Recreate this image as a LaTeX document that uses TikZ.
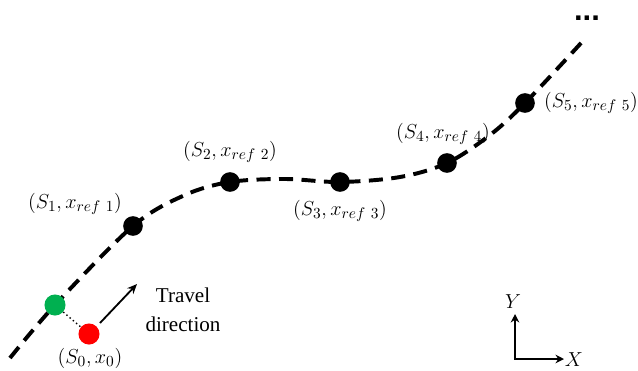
\documentclass[tikz,border=0pt]{standalone}
\usepackage{fontspec}
\setmainfont{Liberation Serif}
\newfontfamily\dotsfont{Liberation Sans}
\usetikzlibrary{arrows.meta}
\begin{document}
\begin{tikzpicture}[x=0.025cm,y=-0.025cm,
  pathline/.style={line width=2.8pt,dash pattern=on 10pt off 6pt},
  wp/.style={circle,fill=black,inner sep=0pt,minimum size=14pt},
  pdot/.style={circle,inner sep=0pt,minimum size=15pt},
  lbl/.style={font=\fontsize{15.5}{18}\selectfont,inner sep=0pt},
  arr/.style={line width=1.3pt,-{Stealth[length=7pt,width=6pt]}},
  axarr/.style={line width=1.8pt,-{Stealth[length=6pt,width=6pt]}}]
\useasboundingbox (0,0) rectangle (638,370);
\draw[pathline] plot[smooth,tension=0.55] coordinates {(10,358) (55,305) (133,226) (185,195) (230,182) (285,179) (340,182) (400,177) (447,163) (490,135) (525,103) (582,42)};
\node[wp] (s1) at (133,226) {};
\node[wp] (s2) at (230,182) {};
\node[wp] (s3) at (340,182) {};
\node[wp] (s4) at (447,163) {};
\node[wp] (s5) at (525,103) {};
\node[pdot,fill={rgb,255:red,0;green,176;blue,80}] (g) at (55,305) {};
\node[pdot,fill={rgb,255:red,255;green,0;blue,0}] (r) at (89,334) {};
\draw[line width=1pt,dotted] (g) -- (r);
\node[lbl] (l0) at (90,358) {$(S_0, x_0)$};
\node[lbl] (l1) at (75,204) {$(S_1, x_{ref\ 1})$};
\node[lbl] (l2) at (230,152) {$(S_2, x_{ref\ 2})$};
\node[lbl] (l3) at (340,211) {$(S_3, x_{ref\ 3})$};
\node[lbl] (l4) at (443,134) {$(S_4, x_{ref\ 4})$};
\node[lbl] (l5) at (591,103) {$(S_5, x_{ref\ 5})$};
\coordinate (a0) at (100,323);
\coordinate (a1) at (137,284);
\draw[arr] (a0) -- (a1);
\node[lbl,align=center,font=\fontsize{15}{21}\selectfont] (td) at (183,310) {Travel\\direction};
\node[font=\dotsfont\fontsize{22}{22}\selectfont\bfseries,inner sep=0pt,text height=3pt,text depth=0pt,anchor=base] (dots) at (587,20) {...};
\coordinate (o) at (515,359);
\coordinate (yt) at (515,314);
\coordinate (xt) at (564,359);
\draw[axarr] (o) -- (xt);
\draw[axarr] (o) -- (yt);
\fill (o) ++(-0.9pt,-0.9pt) rectangle ++(1.8pt,1.8pt);
\node[lbl] (ly) at (513,302) {$Y$};
\node[lbl] (lx) at (574,360) {$X$};
\end{tikzpicture}
\end{document}
